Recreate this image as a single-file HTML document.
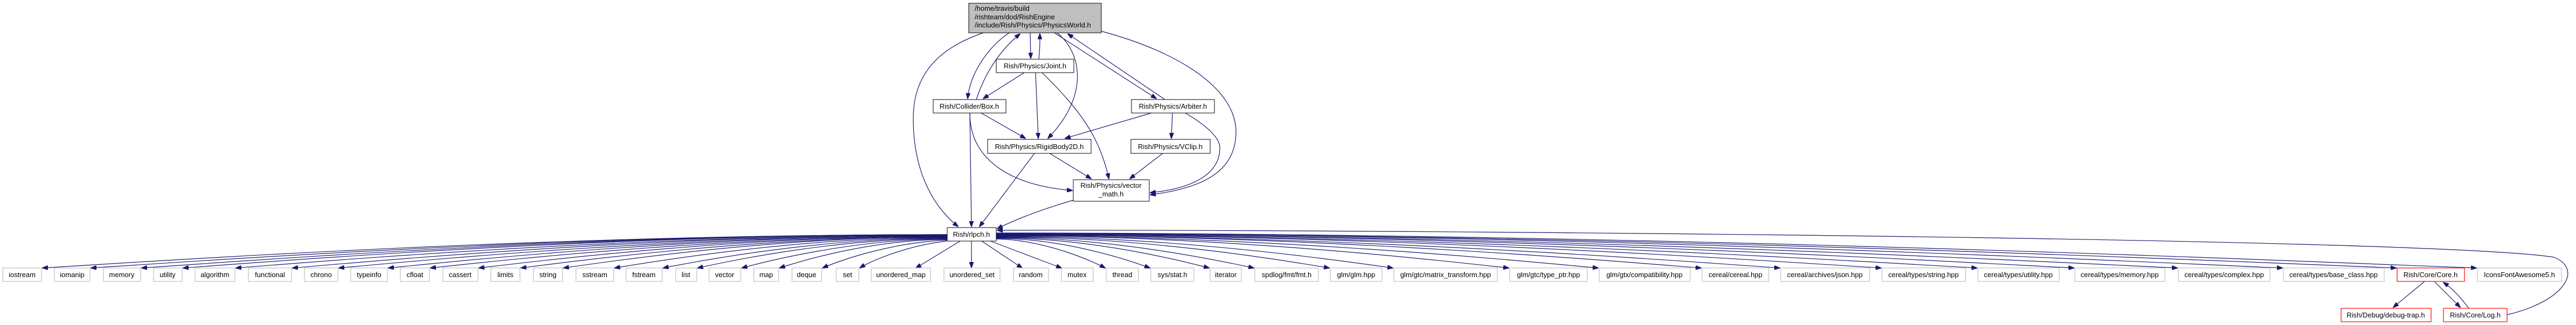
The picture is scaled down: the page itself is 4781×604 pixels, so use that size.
<!DOCTYPE html>
<html><head><meta charset="utf-8"><style>
html,body{margin:0;padding:0;background:#fff;}
svg{display:block;}
text{font-family:"Liberation Sans",sans-serif;font-size:13px;fill:#000;}
.e{fill:none;stroke:#191970;stroke-width:1.2;marker-end:url(#a);}
.n{fill:#fff;stroke:#000;stroke-width:1;}
.g{fill:#fff;stroke:#bfbfbf;stroke-width:1.2;}
.r{fill:#fff;stroke:#ff0000;stroke-width:1.2;}
</style></head><body>
<svg width="4781" height="604" viewBox="0 0 4781 604" xmlns="http://www.w3.org/2000/svg">
<defs><marker id="a" markerWidth="11" markerHeight="8" refX="10" refY="4" orient="auto" markerUnits="userSpaceOnUse"><path d="M0,0 L11,4 L0,8 z" fill="#191970" stroke="#191970"/></marker></defs>

<!-- upper edges -->
<path class="e" d="M1825,61 C1740,90 1695,140 1695,220 C1695,330 1740,390 1778,421"/>
<path class="e" d="M1873,61 C1830,90 1800,140 1796,183"/>
<path class="e" d="M1812,185 C1830,130 1860,90 1893,63"/>
<path class="e" d="M1912,61 L1913,108"/>
<path class="e" d="M1928,110 C1930,90 1930,80 1930,63"/>
<path class="e" d="M1962,61 C2010,100 2020,180 1945,257"/>
<path class="e" d="M1957,61 L2146,183"/>
<path class="e" d="M2162,185 L1982,63"/>
<path class="e" d="M2044,58 C2200,100 2294,170 2294,245 C2294,320 2230,350 2135,362"/>
<path class="e" d="M1901,135 L1825,183"/>
<path class="e" d="M1922,135 L1927,257"/>
<path class="e" d="M1934,135 C2000,200 2040,250 2058,332"/>
<path class="e" d="M1821,210 L1903,257"/>
<path class="e" d="M1800,210 C1800,300 1880,345 1990,354"/>
<path class="e" d="M1800,210 L1803,421"/>
<path class="e" d="M1948,285 L2025,332"/>
<path class="e" d="M1920,285 L1818,421"/>
<path class="e" d="M2137,210 L1977,257"/>
<path class="e" d="M2176,210 L2174,257"/>
<path class="e" d="M2200,210 C2250,240 2264,260 2264,275 C2264,320 2220,350 2135,358"/>
<path class="e" d="M2158,285 L2097,332"/>
<path class="e" d="M1992,372 C1930,390 1880,410 1851,425"/>

<!-- fan edges -->
<path class="e" d="M1758,436 C1002,436 279,486 79,498"/>
<path class="e" d="M1758,436 C1042,436 358,486 169,498"/>
<path class="e" d="M1758,436 C1084,436 441,486 263,498"/>
<path class="e" d="M1758,436 C1119,436 508,486 340,498"/>
<path class="e" d="M1758,437 C1163,437 595,486 438,498"/>
<path class="e" d="M1758,437 C1210,437 687,486 543,498"/>
<path class="e" d="M1758,438 C1249,438 763,486 629,498"/>
<path class="e" d="M1758,438 C1290,438 844,486 721,498"/>
<path class="e" d="M1758,439 C1326,439 912,486 799,498"/>
<path class="e" d="M1758,439 C1366,439 992,486 889,498"/>
<path class="e" d="M1758,440 C1401,440 1060,486 967,498"/>
<path class="e" d="M1758,440 C1437,440 1130,486 1046,498"/>
<path class="e" d="M1758,441 C1479,441 1213,486 1141,498"/>
<path class="e" d="M1758,442 C1520,442 1292,486 1231,498"/>
<path class="e" d="M1758,443 C1549,443 1349,486 1295,498"/>
<path class="e" d="M1758,444 C1586,444 1421,486 1377,498"/>
<path class="e" d="M1760,445 C1617,445 1483,486 1447,498"/>
<path class="e" d="M1762,446 C1653,450 1553,486 1527,498"/>
<path class="e" d="M1766,447 C1684,455 1614,486 1596,498"/>
<path class="e" d="M1782,448 L1700,498"/>
<path class="e" d="M1803,448 L1803,497"/>
<path class="e" d="M1822,448 L1897,498"/>
<path class="e" d="M1838,448 L1970,498"/>
<path class="e" d="M1849,444 C1941,446 2029,486 2051,498"/>
<path class="e" d="M1849,443 C1978,443 2102,486 2134,498"/>
<path class="e" d="M1849,442 C2028,442 2198,486 2244,498"/>
<path class="e" d="M1849,441 C2065,441 2271,486 2327,498"/>
<path class="e" d="M1849,440 C2128,440 2395,486 2467,498"/>
<path class="e" d="M1849,439 C2181,439 2498,486 2585,498"/>
<path class="e" d="M1849,438 C2278,438 2688,486 2800,498"/>
<path class="e" d="M1849,438 C2353,438 2834,486 2966,498"/>
<path class="e" d="M1849,437 C2439,437 3002,486 3157,498"/>
<path class="e" d="M1849,437 C2504,437 3130,486 3303,498"/>
<path class="e" d="M1849,436 C2589,436 3296,486 3491,498"/>
<path class="e" d="M1849,436 C2669,436 3452,486 3669,498"/>
<path class="e" d="M1849,435 C2750,435 3611,486 3849,498"/>
<path class="e" d="M1849,435 C2836,435 3780,486 4041,498"/>
<path class="e" d="M1849,434 C2924,434 3951,486 4236,498"/>
<path class="e" d="M1849,434 C3019,434 4137,486 4447,498"/>
<path class="e" d="M1849,433 C3086,433 4268,486 4596,498"/>
<path class="e" d="M4653,585 C4760,560 4795,500 4740,478 C4500,440 2400,426 1851,428"/>
<path class="e" d="M4500,523 L4442,571"/>
<path class="e" d="M4518,523 L4566,571"/>
<path class="e" d="M4582,573 C4565,550 4550,535 4535,525"/>

<!-- upper nodes -->
<rect x="1798" y="6" width="246" height="55" fill="#bfbfbf" stroke="#000"/>
<text x="1809" y="20">/home/travis/build</text>
<text x="1809" y="36">/rishteam/dod/RishEngine</text>
<text x="1809" y="51">/include/Rish/Physics/PhysicsWorld.h</text>
<rect class="n" x="1849" y="110" width="144" height="25"/><text x="1921" y="127" text-anchor="middle">Rish/Physics/Joint.h</text>
<rect class="n" x="1732" y="185" width="135" height="25"/><text x="1799" y="202" text-anchor="middle">Rish/Collider/Box.h</text>
<rect class="n" x="2100" y="185" width="154" height="25"/><text x="2177" y="202" text-anchor="middle">Rish/Physics/Arbiter.h</text>
<rect class="n" x="1833" y="259" width="192" height="26"/><text x="1929" y="277" text-anchor="middle">Rish/Physics/RigidBody2D.h</text>
<rect class="n" x="2099" y="259" width="147" height="26"/><text x="2172" y="277" text-anchor="middle">Rish/Physics/VClip.h</text>
<rect class="n" x="1992" y="334" width="141" height="40"/><text x="2062" y="349" text-anchor="middle">Rish/Physics/vector</text><text x="2062" y="365" text-anchor="middle">_math.h</text>
<rect class="n" x="1758" y="423" width="91" height="25"/><text x="1803" y="440" text-anchor="middle">Rish/rlpch.h</text>

<!-- bottom row -->
<g>
<rect class="g" x="5" y="498" width="72" height="25"/><text x="41" y="515" text-anchor="middle">iostream</text>
<rect class="g" x="101" y="498" width="66" height="25"/><text x="134" y="515" text-anchor="middle">iomanip</text>
<rect class="g" x="192" y="498" width="69" height="25"/><text x="226" y="515" text-anchor="middle">memory</text>
<rect class="g" x="285" y="498" width="53" height="25"/><text x="311" y="515" text-anchor="middle">utility</text>
<rect class="g" x="362" y="498" width="74" height="25"/><text x="399" y="515" text-anchor="middle">algorithm</text>
<rect class="g" x="461" y="498" width="80" height="25"/><text x="501" y="515" text-anchor="middle">functional</text>
<rect class="g" x="565" y="498" width="62" height="25"/><text x="596" y="515" text-anchor="middle">chrono</text>
<rect class="g" x="651" y="498" width="68" height="25"/><text x="685" y="515" text-anchor="middle">typeinfo</text>
<rect class="g" x="743" y="498" width="54" height="25"/><text x="770" y="515" text-anchor="middle">cfloat</text>
<rect class="g" x="822" y="498" width="65" height="25"/><text x="854" y="515" text-anchor="middle">cassert</text>
<rect class="g" x="911" y="498" width="54" height="25"/><text x="938" y="515" text-anchor="middle">limits</text>
<rect class="g" x="990" y="498" width="54" height="25"/><text x="1017" y="515" text-anchor="middle">string</text>
<rect class="g" x="1069" y="498" width="70" height="25"/><text x="1104" y="515" text-anchor="middle">sstream</text>
<rect class="g" x="1162" y="498" width="67" height="25"/><text x="1195" y="515" text-anchor="middle">fstream</text>
<rect class="g" x="1254" y="498" width="39" height="25"/><text x="1273" y="515" text-anchor="middle">list</text>
<rect class="g" x="1316" y="498" width="59" height="25"/><text x="1345" y="515" text-anchor="middle">vector</text>
<rect class="g" x="1399" y="498" width="46" height="25"/><text x="1422" y="515" text-anchor="middle">map</text>
<rect class="g" x="1470" y="498" width="55" height="25"/><text x="1497" y="515" text-anchor="middle">deque</text>
<rect class="g" x="1552" y="498" width="42" height="25"/><text x="1573" y="515" text-anchor="middle">set</text>
<rect class="g" x="1617" y="498" width="110" height="25"/><text x="1672" y="515" text-anchor="middle">unordered_map</text>
<rect class="g" x="1752" y="498" width="104" height="25"/><text x="1804" y="515" text-anchor="middle">unordered_set</text>
<rect class="g" x="1881" y="498" width="65" height="25"/><text x="1913" y="515" text-anchor="middle">random</text>
<rect class="g" x="1970" y="498" width="59" height="25"/><text x="1999" y="515" text-anchor="middle">mutex</text>
<rect class="g" x="2053" y="498" width="60" height="25"/><text x="2083" y="515" text-anchor="middle">thread</text>
<rect class="g" x="2136" y="498" width="80" height="25"/><text x="2176" y="515" text-anchor="middle">sys/stat.h</text>
<rect class="g" x="2246" y="498" width="58" height="25"/><text x="2275" y="515" text-anchor="middle">iterator</text>
<rect class="g" x="2329" y="498" width="118" height="25"/><text x="2388" y="515" text-anchor="middle">spdlog/fmt/fmt.h</text>
<rect class="g" x="2469" y="498" width="96" height="25"/><text x="2517" y="515" text-anchor="middle">glm/glm.hpp</text>
<rect class="g" x="2587" y="498" width="192" height="25"/><text x="2683" y="515" text-anchor="middle">glm/gtc/matrix_transform.hpp</text>
<rect class="g" x="2802" y="498" width="144" height="25"/><text x="2874" y="515" text-anchor="middle">glm/gtc/type_ptr.hpp</text>
<rect class="g" x="2968" y="498" width="169" height="25"/><text x="3052" y="515" text-anchor="middle">glm/gtx/compatibility.hpp</text>
<rect class="g" x="3159" y="498" width="124" height="25"/><text x="3221" y="515" text-anchor="middle">cereal/cereal.hpp</text>
<rect class="g" x="3305" y="498" width="165" height="25"/><text x="3387" y="515" text-anchor="middle">cereal/archives/json.hpp</text>
<rect class="g" x="3493" y="498" width="155" height="25"/><text x="3570" y="515" text-anchor="middle">cereal/types/string.hpp</text>
<rect class="g" x="3671" y="498" width="151" height="25"/><text x="3746" y="515" text-anchor="middle">cereal/types/utility.hpp</text>
<rect class="g" x="3851" y="498" width="167" height="25"/><text x="3934" y="515" text-anchor="middle">cereal/types/memory.hpp</text>
<rect class="g" x="4043" y="498" width="170" height="25"/><text x="4128" y="515" text-anchor="middle">cereal/types/complex.hpp</text>
<rect class="g" x="4238" y="498" width="187" height="25"/><text x="4331" y="515" text-anchor="middle">cereal/types/base_class.hpp</text>
<rect class="r" x="4449" y="498" width="125" height="25"/><text x="4511" y="515" text-anchor="middle">Rish/Core/Core.h</text>
<rect class="g" x="4598" y="498" width="156" height="25"/><text x="4676" y="515" text-anchor="middle">IconsFontAwesome5.h</text>
<rect class="r" x="4345" y="573" width="167" height="25"/><text x="4428" y="590" text-anchor="middle">Rish/Debug/debug-trap.h</text>
<rect class="r" x="4535" y="573" width="118" height="25"/><text x="4594" y="590" text-anchor="middle">Rish/Core/Log.h</text>
</g>
</svg>
</body></html>
